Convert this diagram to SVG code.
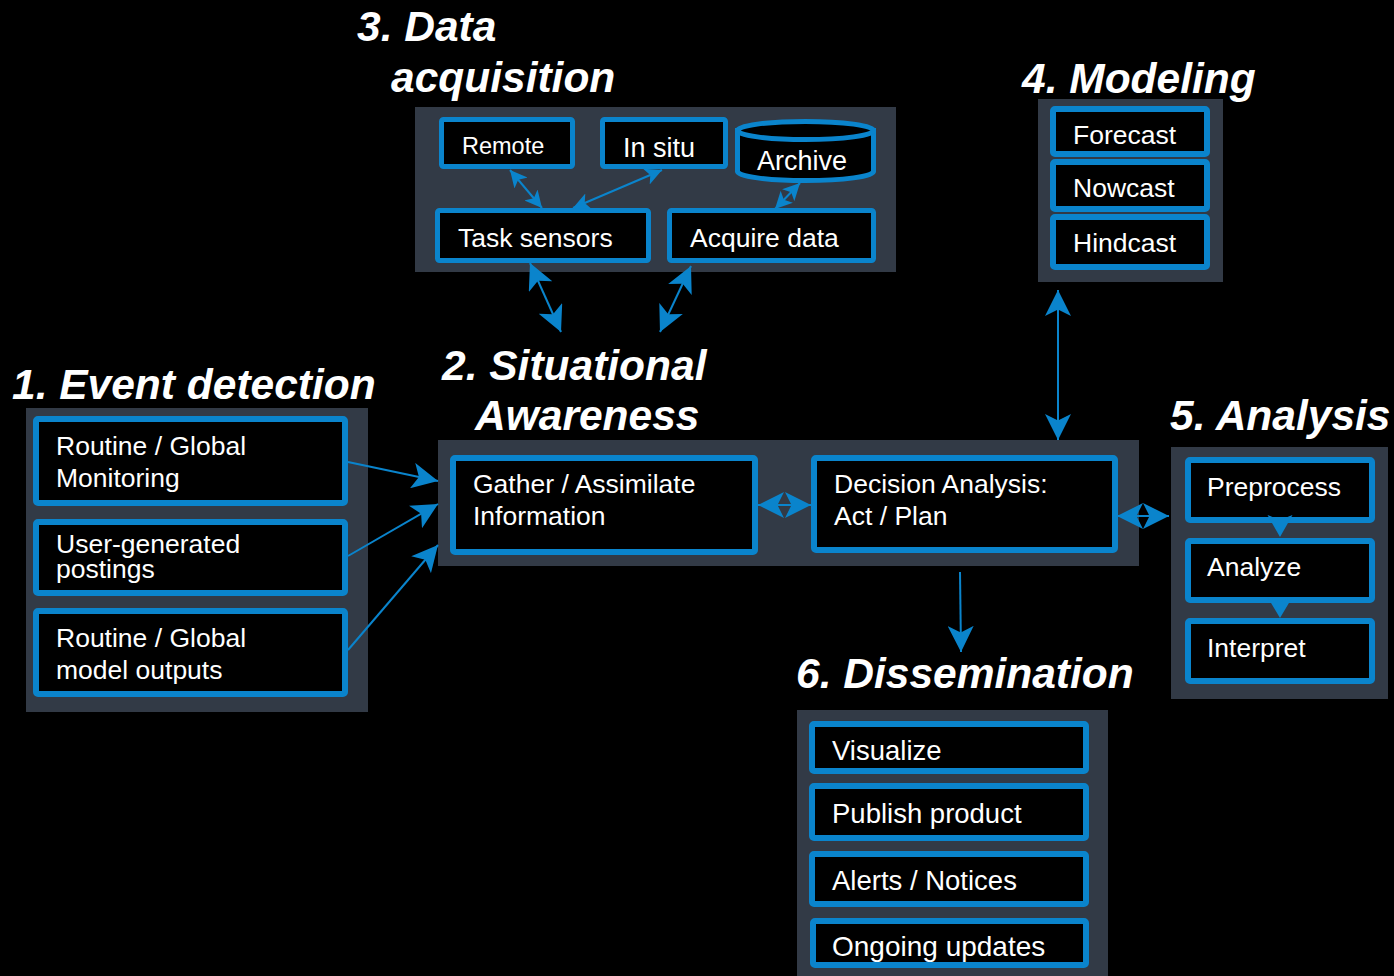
<svg xmlns="http://www.w3.org/2000/svg" width="1394" height="976" viewBox="0 0 1394 976">
<style>
.panel{fill:#323a46}
.box{fill:#000;stroke:#0a84cc;stroke-width:6}
.sbox{fill:#000;stroke:#0a84cc;stroke-width:5}
.t{font-family:"Liberation Sans",Arial,sans-serif;font-size:26.5px;fill:#fff}
.d{font-size:27.5px}
.h{font-family:"Liberation Sans",Arial,sans-serif;font-size:42.5px;font-weight:bold;font-style:italic;fill:#fff}
.c{stroke:#0a84cc;stroke-width:2;fill:none}
.ca{marker-end:url(#ah)}
.cd{marker-start:url(#ah);marker-end:url(#ah)}
.cs{marker-start:url(#as);marker-end:url(#as)}
</style>
<defs>
<marker id="ah" viewBox="0 0 10 10" refX="10" refY="5" markerUnits="userSpaceOnUse" markerWidth="26" markerHeight="26" orient="auto-start-reverse">
<path d="M0,0 L10,5 L0,10 L2.5,5 Z" fill="#0a84cc"/>
</marker>
<marker id="as" viewBox="0 0 10 10" refX="10" refY="5" markerUnits="userSpaceOnUse" markerWidth="17" markerHeight="17" orient="auto-start-reverse">
<path d="M0,0 L10,5 L0,10 L2.5,5 Z" fill="#0a84cc"/>
</marker>
</defs>
<rect width="1394" height="976" fill="#000"/>

<g id="event-detection">
<text class="h" x="12" y="399">1. Event detection</text>
<rect class="panel" x="26" y="408" width="342" height="304"/>
<g id="routine-monitoring"><rect class="box" x="36" y="419" width="309" height="84" rx="2"/>
<text class="t" x="56" y="455">Routine / Global</text><text class="t" x="56" y="487">Monitoring</text></g>
<g id="user-postings"><rect class="box" x="36" y="522" width="309" height="71" rx="2"/>
<text class="t" x="56" y="553">User-generated</text><text class="t" x="56" y="578">postings</text></g>
<g id="model-outputs"><rect class="box" x="36" y="611" width="309" height="83" rx="2"/>
<text class="t" x="56" y="647">Routine / Global</text><text class="t" x="56" y="679">model outputs</text></g>
</g>

<g id="situational-awareness">
<text class="h" x="442" y="380">2. Situational</text>
<text class="h" x="475" y="430">Awareness</text>
<rect class="panel" x="438" y="440" width="701" height="126"/>
<g id="gather"><rect class="box" x="453" y="458" width="302" height="94" rx="2"/>
<text class="t" x="473" y="493">Gather / Assimilate</text><text class="t" x="473" y="525">Information</text></g>
<g id="decision"><rect class="box" x="814" y="458" width="301" height="92" rx="2"/>
<text class="t" x="834" y="493">Decision Analysis:</text><text class="t" x="834" y="525">Act / Plan</text></g>
</g>

<g id="data-acquisition">
<text class="h" x="357" y="41">3. Data</text>
<text class="h" x="391" y="92">acquisition</text>
<rect class="panel" x="415" y="107" width="481" height="165"/>
<g id="remote"><rect class="sbox" x="441.5" y="119.5" width="131" height="47" rx="2"/>
<text class="t" x="462" y="154" style="font-size:23.5px">Remote</text></g>
<g id="in-situ"><rect class="sbox" x="602.5" y="119.5" width="123" height="47" rx="2"/>
<text class="t" x="623" y="157" style="font-size:27px">In situ</text></g>
<g id="archive">
<path d="M737.5,130.5 L737.5,171.5 A68,9 0 0 0 873.5,171.5 L873.5,130.5 Z" fill="#000" stroke="#0a84cc" stroke-width="5"/>
<ellipse cx="805.5" cy="130.5" rx="68" ry="9" fill="#000" stroke="#0a84cc" stroke-width="5"/>
<text class="t" x="757" y="170" style="font-size:27px">Archive</text></g>
<g id="task-sensors"><rect class="sbox" x="437.5" y="210.5" width="211" height="50" rx="2"/>
<text class="t" x="458" y="247">Task sensors</text></g>
<g id="acquire-data"><rect class="sbox" x="669.5" y="210.5" width="204" height="50" rx="2"/>
<text class="t" x="690" y="247">Acquire data</text></g>
</g>

<g id="modeling">
<text class="h" x="1022" y="93">4. Modeling</text>
<rect class="panel" x="1038" y="99" width="185" height="183"/>
<g id="forecast"><rect class="box" x="1053" y="109" width="154" height="45" rx="2"/>
<text class="t" x="1073" y="144">Forecast</text></g>
<g id="nowcast"><rect class="box" x="1053" y="162" width="154" height="47" rx="2"/>
<text class="t" x="1073" y="197">Nowcast</text></g>
<g id="hindcast"><rect class="box" x="1053" y="217" width="154" height="50" rx="2"/>
<text class="t" x="1073" y="252">Hindcast</text></g>
</g>

<g id="analysis">
<text class="h" x="1170" y="430">5. Analysis</text>
<rect class="panel" x="1171" y="447" width="217" height="252"/>
<g id="preprocess"><rect class="box" x="1188" y="460" width="184" height="60" rx="2"/>
<text class="t" x="1207" y="496">Preprocess</text></g>
<g id="analyze"><rect class="box" x="1188" y="541" width="184" height="59" rx="2"/>
<text class="t" x="1207" y="576">Analyze</text></g>
<g id="interpret"><rect class="box" x="1188" y="621" width="184" height="60" rx="2"/>
<text class="t" x="1207" y="657">Interpret</text></g>
</g>

<g id="dissemination">
<text class="h" x="796" y="688">6. Dissemination</text>
<rect class="panel" x="797" y="710" width="311" height="266"/>
<g id="visualize"><rect class="box" x="812" y="724" width="274" height="47" rx="2"/>
<text class="t d" x="832" y="760">Visualize</text></g>
<g id="publish"><rect class="box" x="812" y="786" width="274" height="52" rx="2"/>
<text class="t d" x="832" y="823">Publish product</text></g>
<g id="alerts"><rect class="box" x="812" y="854" width="274" height="50" rx="2"/>
<text class="t d" x="832" y="890">Alerts / Notices</text></g>
<g id="ongoing"><rect x="813" y="921" width="273" height="44" rx="2" fill="#000"/>
<text class="t" x="832" y="956" style="font-size:28px">Ongoing updates</text>
<rect x="813" y="921" width="273" height="44" rx="2" fill="none" stroke="#0a84cc" stroke-width="6"/></g>
</g>

<g id="connectors">
<line class="c ca" x1="348" y1="462" x2="438" y2="481"/>
<line class="c ca" x1="348" y1="556" x2="438" y2="504"/>
<line class="c ca" x1="348" y1="650" x2="438" y2="545"/>
<line class="c cd" x1="758" y1="505" x2="811" y2="505"/>
<line class="c cd" x1="1117" y1="516" x2="1169" y2="516"/>
<line class="c cd" x1="1058" y1="290" x2="1058" y2="440"/>
<line class="c ca" x1="960" y1="572" x2="961" y2="652"/>
<line class="c cd" x1="530" y1="263" x2="561" y2="332"/>
<line class="c cd" x1="691" y1="266" x2="660" y2="332"/>
<line class="c cs" x1="510" y1="170" x2="542" y2="208"/>
<line class="c cs" x1="662" y1="170" x2="573" y2="208"/>
<line class="c cs" x1="800" y1="183" x2="775" y2="209"/>
<path d="M1267.5,515 L1280,520 L1292.5,515 L1280,537 Z" fill="#0a84cc"/>
<path d="M1267.5,597 L1280,602 L1292.5,597 L1280,618 Z" fill="#0a84cc"/>
</g>
</svg>
